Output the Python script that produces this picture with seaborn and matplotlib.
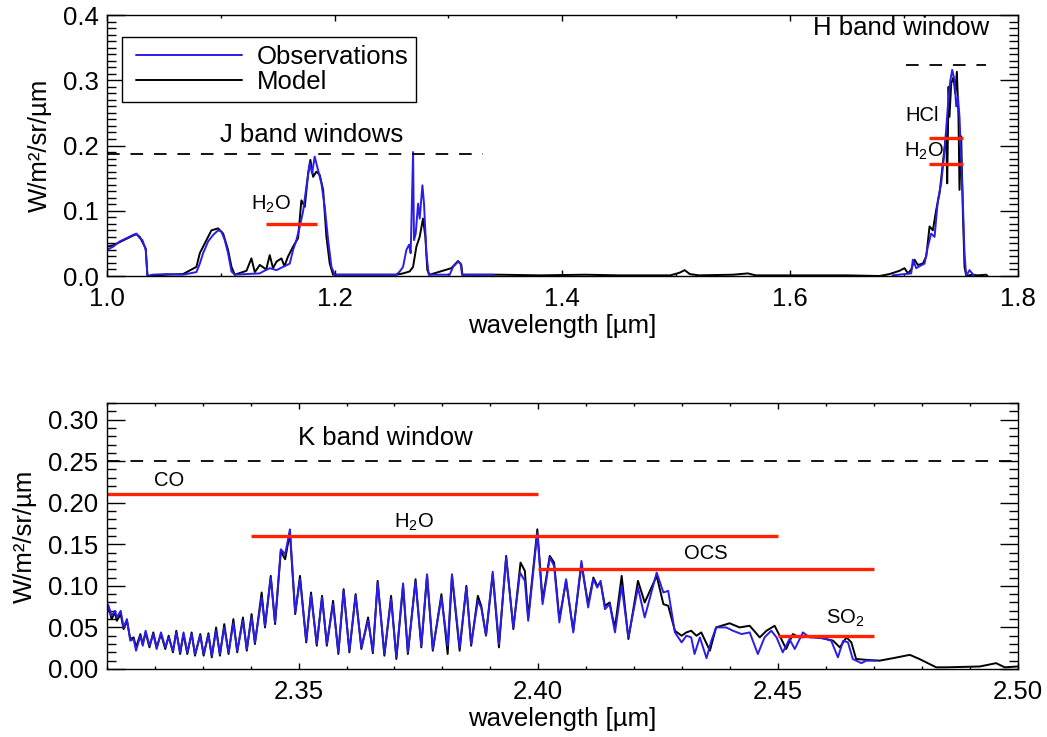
import matplotlib
matplotlib.use('Agg')
import numpy as np
import pandas as pd
import matplotlib.pyplot as plt
import seaborn as sns
from matplotlib.lines import Line2D
from matplotlib.legend_handler import HandlerLine2D
from matplotlib.ticker import MultipleLocator, FormatStrFormatter

# ---------------- data ----------------
# Top panel: J and H bands
top_obs_wl = [1.0000, 1.0056, 1.0114, 1.0173, 1.0231, 1.0260, 1.0290, 1.0313, 1.0342, 1.0357,
              1.0400, 1.0524, 1.0670, 1.0787, 1.0817, 1.0846, 1.0890, 1.0934, 1.0978, 1.1007,
              1.1036, 1.1065, 1.1095, 1.1124, 1.1227, 1.1344, 1.1373, 1.1431, 1.1490, 1.1548,
              1.1607, 1.1636, 1.1665, 1.1695, 1.1724, 1.1753, 1.1783, 1.1803, 1.1826, 1.1856,
              1.1885, 1.1914, 1.1944, 1.1973, 1.2002, 1.2300, 1.2543, 1.2573, 1.2602, 1.2631,
              1.2655, 1.2669, 1.2690, 1.2698, 1.2713, 1.2734, 1.2748, 1.2772, 1.2786, 1.2807,
              1.2827, 1.3012, 1.3041, 1.3085, 1.3108, 1.3120, 1.3400,
              1.6900, 1.7065, 1.7079, 1.7109, 1.7138, 1.7182, 1.7211, 1.7240, 1.7270, 1.7299,
              1.7328, 1.7358, 1.7387, 1.7407, 1.7425, 1.7445, 1.7460, 1.7475, 1.7489, 1.7504,
              1.7518, 1.7533, 1.7548, 1.7577, 1.7600, 1.7621]
top_obs_flux = [0.040, 0.045, 0.053, 0.058, 0.063, 0.065, 0.058, 0.055, 0.040, 0.000,
                0.002, 0.003, 0.002, 0.006, 0.019, 0.035, 0.053, 0.063, 0.070, 0.068,
                0.055, 0.035, 0.007, 0.002, 0.003, 0.004, 0.007, 0.012, 0.009, 0.014,
                0.019, 0.040, 0.055, 0.076, 0.099, 0.137, 0.173, 0.157, 0.183, 0.162,
                0.142, 0.106, 0.055, 0.014, 0.002, 0.002, 0.002, 0.007, 0.014, 0.040,
                0.048, 0.035, 0.190, 0.055, 0.065, 0.111, 0.088, 0.139, 0.111, 0.035,
                0.002, 0.002, 0.014, 0.022, 0.019, 0.002, 0.002,
                0.001, 0.004, 0.025, 0.012, 0.015, 0.019, 0.045, 0.065, 0.060, 0.116,
                0.142, 0.193, 0.260, 0.298, 0.316, 0.300, 0.260, 0.275, 0.244, 0.178,
                0.116, 0.035, 0.000, 0.009, 0.004, 0.000]

top_mod_wl = [1.0000, 1.0056, 1.0114, 1.0173, 1.0231, 1.0260, 1.0290, 1.0313, 1.0342, 1.0357,
              1.0524, 1.0670, 1.0787, 1.0817, 1.0875, 1.0919, 1.0978, 1.1022, 1.1065, 1.1095,
              1.1124, 1.1227, 1.1270, 1.1300, 1.1344, 1.1400, 1.1431, 1.1460, 1.1490, 1.1534,
              1.1560, 1.1592, 1.1636, 1.1680, 1.1709, 1.1739, 1.1768, 1.1788, 1.1812, 1.1841,
              1.1870, 1.1900, 1.1929, 1.1958, 1.1987, 1.2543, 1.2602, 1.2660, 1.2690, 1.2719,
              1.2748, 1.2777, 1.2798, 1.2815, 1.2836, 1.3026, 1.3085, 1.3114, 1.3123, 1.3451,
              1.3800, 1.4200, 1.4500, 1.4950, 1.5030, 1.5075, 1.5120, 1.5200, 1.5500, 1.5630,
              1.5700, 1.6500, 1.6787, 1.6875, 1.6962, 1.7006, 1.7036, 1.7065, 1.7094, 1.7123,
              1.7167, 1.7197, 1.7226, 1.7255, 1.7284, 1.7314, 1.7343, 1.7372, 1.7381, 1.7393,
              1.7401, 1.7416, 1.7437, 1.7451, 1.7466, 1.7480, 1.7489, 1.7504, 1.7518, 1.7533,
              1.7548, 1.7600, 1.7650, 1.7723, 1.7735]
top_mod_flux = [0.045, 0.047, 0.052, 0.057, 0.062, 0.064, 0.060, 0.052, 0.042, 0.000,
                0.002, 0.003, 0.014, 0.035, 0.055, 0.070, 0.073, 0.065, 0.040, 0.014,
                0.002, 0.008, 0.027, 0.006, 0.017, 0.010, 0.032, 0.012, 0.022, 0.027,
                0.015, 0.030, 0.045, 0.058, 0.116, 0.106, 0.157, 0.178, 0.152, 0.160,
                0.155, 0.132, 0.060, 0.019, 0.002, 0.002, 0.004, 0.007, 0.014, 0.045,
                0.060, 0.088, 0.060, 0.009, 0.002, 0.012, 0.023, 0.017, 0.002, 0.002,
                0.001, 0.002, 0.001, 0.001, 0.005, 0.009, 0.003, 0.001, 0.002, 0.004,
                0.001, 0.001, 0.000, 0.003, 0.008, 0.012, 0.004, 0.010, 0.025, 0.017,
                0.019, 0.030, 0.076, 0.070, 0.101, 0.127, 0.173, 0.219, 0.142, 0.290,
                0.244, 0.295, 0.305, 0.280, 0.313, 0.244, 0.132, 0.214, 0.101, 0.014,
                0.000, 0.002, 0.001, 0.002, 0.000]

# Bottom panel: K band
bot_obs_wl = [2.3100, 2.3103, 2.3110, 2.3117, 2.3121, 2.3129, 2.3135, 2.3142, 2.3149, 2.3156,
              2.3161, 2.3170, 2.3175, 2.3181, 2.3189, 2.3197, 2.3204, 2.3213, 2.3222, 2.3229,
              2.3238, 2.3245, 2.3253, 2.3260, 2.3268, 2.3277, 2.3284, 2.3295, 2.3302, 2.3312,
              2.3319, 2.3328, 2.3336, 2.3345, 2.3354, 2.3364, 2.3372, 2.3384, 2.3392, 2.3402,
              2.3409, 2.3423, 2.3430, 2.3442, 2.3451, 2.3463, 2.3472, 2.3482, 2.3493, 2.3503,
              2.3516, 2.3526, 2.3538, 2.3549, 2.3559, 2.3572, 2.3583, 2.3594, 2.3606, 2.3619,
              2.3631, 2.3645, 2.3655, 2.3665, 2.3679, 2.3693, 2.3704, 2.3718, 2.3728, 2.3744,
              2.3756, 2.3768, 2.3780, 2.3798, 2.3811, 2.3820, 2.3836, 2.3850, 2.3860, 2.3874,
              2.3881, 2.3891, 2.3905, 2.3918, 2.3933, 2.3948, 2.3962, 2.3972, 2.3979, 2.3998,
              2.4009, 2.4024, 2.4033, 2.4044, 2.4058, 2.4073, 2.4090, 2.4104, 2.4115, 2.4123,
              2.4130, 2.4139, 2.4149, 2.4160, 2.4174, 2.4188, 2.4208, 2.4222, 2.4247, 2.4261,
              2.4271, 2.4285, 2.4299, 2.4309, 2.4319, 2.4326, 2.4337, 2.4351, 2.4361, 2.4371,
              2.4392, 2.4406, 2.4424, 2.4441, 2.4458, 2.4472, 2.4486, 2.4497, 2.4510, 2.4524,
              2.4535, 2.4552, 2.4566, 2.4594, 2.4611, 2.4625, 2.4636, 2.4646, 2.4656, 2.4674,
              2.4684, 2.4704]
bot_obs_flux = [0.064, 0.077, 0.064, 0.070, 0.062, 0.070, 0.050, 0.060, 0.034, 0.036,
                0.022, 0.040, 0.028, 0.046, 0.028, 0.042, 0.024, 0.044, 0.026, 0.038,
                0.022, 0.044, 0.020, 0.044, 0.020, 0.042, 0.018, 0.040, 0.018, 0.041,
                0.016, 0.046, 0.018, 0.050, 0.020, 0.055, 0.022, 0.058, 0.024, 0.062,
                0.032, 0.086, 0.052, 0.110, 0.056, 0.144, 0.138, 0.168, 0.068, 0.108,
                0.034, 0.089, 0.030, 0.086, 0.030, 0.078, 0.020, 0.094, 0.022, 0.088,
                0.026, 0.058, 0.021, 0.104, 0.018, 0.084, 0.014, 0.103, 0.020, 0.105,
                0.028, 0.114, 0.024, 0.086, 0.028, 0.114, 0.026, 0.098, 0.030, 0.082,
                0.074, 0.041, 0.117, 0.030, 0.134, 0.050, 0.116, 0.106, 0.058, 0.164,
                0.078, 0.134, 0.124, 0.056, 0.108, 0.044, 0.130, 0.074, 0.108, 0.098,
                0.106, 0.072, 0.078, 0.044, 0.100, 0.038, 0.098, 0.062, 0.116, 0.092,
                0.094, 0.044, 0.032, 0.040, 0.038, 0.018, 0.038, 0.013, 0.034, 0.050,
                0.050, 0.046, 0.042, 0.044, 0.018, 0.038, 0.046, 0.038, 0.020, 0.036,
                0.024, 0.044, 0.038, 0.037, 0.034, 0.014, 0.034, 0.032, 0.012, 0.007,
                0.010, 0.010]

bot_mod_wl = [2.3100, 2.3101, 2.3105, 2.3110, 2.3117, 2.3121, 2.3129, 2.3135, 2.3142, 2.3149,
              2.3156, 2.3161, 2.3170, 2.3175, 2.3181, 2.3189, 2.3197, 2.3204, 2.3213, 2.3222,
              2.3229, 2.3238, 2.3245, 2.3253, 2.3260, 2.3268, 2.3277, 2.3284, 2.3295, 2.3302,
              2.3312, 2.3319, 2.3328, 2.3336, 2.3345, 2.3354, 2.3364, 2.3372, 2.3384, 2.3392,
              2.3402, 2.3409, 2.3423, 2.3430, 2.3442, 2.3451, 2.3463, 2.3472, 2.3482, 2.3493,
              2.3503, 2.3516, 2.3526, 2.3538, 2.3549, 2.3559, 2.3572, 2.3583, 2.3594, 2.3606,
              2.3619, 2.3631, 2.3645, 2.3655, 2.3665, 2.3679, 2.3693, 2.3704, 2.3718, 2.3728,
              2.3744, 2.3756, 2.3768, 2.3780, 2.3798, 2.3811, 2.3820, 2.3836, 2.3850, 2.3860,
              2.3874, 2.3881, 2.3891, 2.3905, 2.3918, 2.3933, 2.3948, 2.3963, 2.3972, 2.3979,
              2.3998, 2.4009, 2.4024, 2.4033, 2.4044, 2.4058, 2.4073, 2.4090, 2.4104, 2.4115,
              2.4123, 2.4130, 2.4139, 2.4149, 2.4155, 2.4160, 2.4174, 2.4188, 2.4208, 2.4222,
              2.4247, 2.4261, 2.4271, 2.4285, 2.4299, 2.4309, 2.4319, 2.4330, 2.4340, 2.4358,
              2.4371, 2.4399, 2.4420, 2.4441, 2.4462, 2.4476, 2.4493, 2.4507, 2.4517, 2.4531,
              2.4545, 2.4573, 2.4601, 2.4615, 2.4629, 2.4643, 2.4653, 2.4663, 2.4684, 2.4712,
              2.4740, 2.4775, 2.4795, 2.4830, 2.4851, 2.4921, 2.4955, 2.4973, 2.5000]
bot_mod_flux = [0.100, 0.070, 0.072, 0.060, 0.068, 0.058, 0.066, 0.048, 0.058, 0.036,
                0.038, 0.026, 0.042, 0.030, 0.044, 0.026, 0.044, 0.026, 0.042, 0.024,
                0.040, 0.020, 0.046, 0.018, 0.042, 0.018, 0.044, 0.016, 0.042, 0.016,
                0.043, 0.014, 0.050, 0.016, 0.054, 0.018, 0.060, 0.020, 0.062, 0.022,
                0.066, 0.030, 0.092, 0.050, 0.112, 0.054, 0.142, 0.132, 0.164, 0.066,
                0.112, 0.032, 0.092, 0.028, 0.088, 0.028, 0.082, 0.018, 0.096, 0.020,
                0.090, 0.024, 0.062, 0.019, 0.106, 0.016, 0.088, 0.012, 0.100, 0.018,
                0.108, 0.026, 0.112, 0.022, 0.090, 0.018, 0.112, 0.022, 0.100, 0.028,
                0.088, 0.076, 0.040, 0.114, 0.026, 0.136, 0.048, 0.128, 0.118, 0.062,
                0.168, 0.082, 0.136, 0.128, 0.060, 0.106, 0.046, 0.126, 0.078, 0.110,
                0.100, 0.104, 0.076, 0.080, 0.062, 0.050, 0.112, 0.036, 0.106, 0.080,
                0.112, 0.078, 0.076, 0.046, 0.040, 0.044, 0.046, 0.040, 0.044, 0.022,
                0.050, 0.055, 0.050, 0.052, 0.038, 0.046, 0.052, 0.036, 0.024, 0.042,
                0.038, 0.039, 0.036, 0.034, 0.026, 0.038, 0.032, 0.012, 0.011, 0.010,
                0.013, 0.017, 0.012, 0.002, 0.002, 0.003, 0.007, 0.002, 0.003]

# band windows (dashed) : start, end, level
top_windows = [(1.000, 1.330, 0.187), (1.702, 1.772, 0.324)]
bot_windows = [(2.310, 2.500, 0.250)]
# absorber bands (red): start, end, level
top_absorbers = [(1.140, 1.185, 0.080), (1.722, 1.752, 0.211), (1.722, 1.752, 0.172)]
bot_absorbers = [(2.310, 2.400, 0.210), (2.340, 2.450, 0.160),
                 (2.400, 2.470, 0.120), (2.450, 2.470, 0.040)]

# ---------------- style ----------------
sns.set_theme(style='ticks')
plt.rcParams['font.family'] = ['Liberation Sans', 'DejaVu Sans']
plt.rcParams['mathtext.default'] = 'regular'
for key in ['text.color', 'axes.labelcolor', 'xtick.color', 'ytick.color', 'axes.edgecolor']:
    plt.rcParams[key] = 'black'

BLUE = '#2a1ee6'
RED = '#ff2200'
FS = 18.5
FS_SMALL = 14.5
LW = 1.4

fig = plt.figure(figsize=(10.47, 7.37), dpi=100)
ax1 = fig.add_axes([0.102, 0.6255, 0.870, 0.3541])
ax2 = fig.add_axes([0.102, 0.0923, 0.870, 0.3609])

# top panel data (observations come in two separate windows)
top_obs = pd.DataFrame({'wl': top_obs_wl, 'flux': top_obs_flux})
top_obs['seg'] = (top_obs['wl'] > 1.5).astype(int)
top_mod = pd.DataFrame({'wl': top_mod_wl, 'flux': top_mod_flux})
sns.lineplot(data=top_mod, x='wl', y='flux', ax=ax1, color='black', lw=LW,
             estimator=None, sort=False)
for s, d in top_obs.groupby('seg'):
    sns.lineplot(data=d, x='wl', y='flux', ax=ax1, color=BLUE, lw=LW,
                 estimator=None, sort=False)

bot_obs = pd.DataFrame({'wl': bot_obs_wl, 'flux': bot_obs_flux})
bot_mod = pd.DataFrame({'wl': bot_mod_wl, 'flux': bot_mod_flux})
sns.lineplot(data=bot_mod, x='wl', y='flux', ax=ax2, color='black', lw=LW,
             estimator=None, sort=False)
sns.lineplot(data=bot_obs, x='wl', y='flux', ax=ax2, color=BLUE, lw=LW,
             estimator=None, sort=False)

# windows and absorbers
for ax, wins, abss in [(ax1, top_windows, top_absorbers), (ax2, bot_windows, bot_absorbers)]:
    for x0, x1, lev in wins:
        ax.plot([x0, x1], [lev, lev], color='black', lw=1.3, ls=(0, (7, 6)))
    for x0, x1, lev in abss:
        ax.plot([x0, x1], [lev, lev], color=RED, lw=2.4, solid_capstyle='butt')

# labels
ax1.text(1.180, 0.198, 'J band windows', fontsize=FS, ha='center', va='bottom')
ax1.text(1.698, 0.362, 'H band window', fontsize=FS, ha='center', va='bottom')
ax1.text(1.144, 0.093, 'H$_2$O', fontsize=FS_SMALL, ha='center', va='bottom')
ax1.text(1.716, 0.232, 'HCl', fontsize=FS_SMALL, ha='center', va='bottom')
ax1.text(1.718, 0.174, 'H$_2$O', fontsize=FS_SMALL, ha='center', va='bottom')
ax2.text(2.3681, 0.264, 'K band window', fontsize=FS, ha='center', va='bottom')
ax2.text(2.3231, 0.215, 'CO', fontsize=FS_SMALL, ha='center', va='bottom')
ax2.text(2.3740, 0.164, 'H$_2$O', fontsize=FS_SMALL, ha='center', va='bottom')
ax2.text(2.4350, 0.127, 'OCS', fontsize=FS_SMALL, ha='center', va='bottom')
ax2.text(2.4640, 0.048, 'SO$_2$', fontsize=FS_SMALL, ha='center', va='bottom')

# axes formatting
ax1.set_xlim(1.0, 1.8)
ax1.set_ylim(0.0, 0.4)
ax1.xaxis.set_major_locator(MultipleLocator(0.2))
ax1.xaxis.set_minor_locator(MultipleLocator(0.1))
ax1.yaxis.set_major_locator(MultipleLocator(0.1))
ax1.yaxis.set_minor_locator(MultipleLocator(0.01))
ax1.xaxis.set_major_formatter(FormatStrFormatter('%.1f'))
ax1.yaxis.set_major_formatter(FormatStrFormatter('%.1f'))

ax2.set_xlim(2.31, 2.50)
ax2.set_ylim(0.0, 0.32)
ax2.xaxis.set_major_locator(MultipleLocator(0.05))
ax2.xaxis.set_minor_locator(MultipleLocator(0.01))
ax2.yaxis.set_major_locator(MultipleLocator(0.05))
ax2.yaxis.set_minor_locator(MultipleLocator(0.01))
ax2.xaxis.set_major_formatter(FormatStrFormatter('%.2f'))
ax2.yaxis.set_major_formatter(FormatStrFormatter('%.2f'))

for ax in (ax1, ax2):
    ax.set_xlabel('wavelength [µm]', fontsize=FS, labelpad=2)
    ax.set_ylabel('W/m²/sr/µm', fontsize=FS, labelpad=8)
    ax.tick_params(which='both', direction='in', top=True, right=True,
                   labelsize=FS, width=1.0, color='black', labelcolor='black')
    ax.tick_params(axis='y', which='major', length=13, pad=6)
    ax.tick_params(axis='y', which='minor', length=6.5)
    ax.tick_params(axis='x', which='major', length=4, pad=8)
    ax.tick_params(axis='x', which='minor', length=2)
    for sp in ax.spines.values():
        sp.set_visible(True)
        sp.set_color('black')
        sp.set_linewidth(1.0)
    ax.grid(False)

h1 = Line2D([], [], color=BLUE, lw=LW)
h2 = Line2D([], [], color='black', lw=LW)
pad_handler = HandlerLine2D(xpad=0.27)
leg = ax1.legend([h1, h2], ['Observations', 'Model'], loc='upper left',
                 bbox_to_anchor=(0.0165, 0.916), borderaxespad=0, fontsize=FS,
                 frameon=True, fancybox=False, edgecolor='black', framealpha=1,
                 handlelength=4.37, handletextpad=0.58, labelspacing=0.05, borderpad=0.3,
                 handler_map={h1: pad_handler, h2: pad_handler})
leg.get_frame().set_linewidth(1.0)

fig.savefig('out.png', dpi=100)
